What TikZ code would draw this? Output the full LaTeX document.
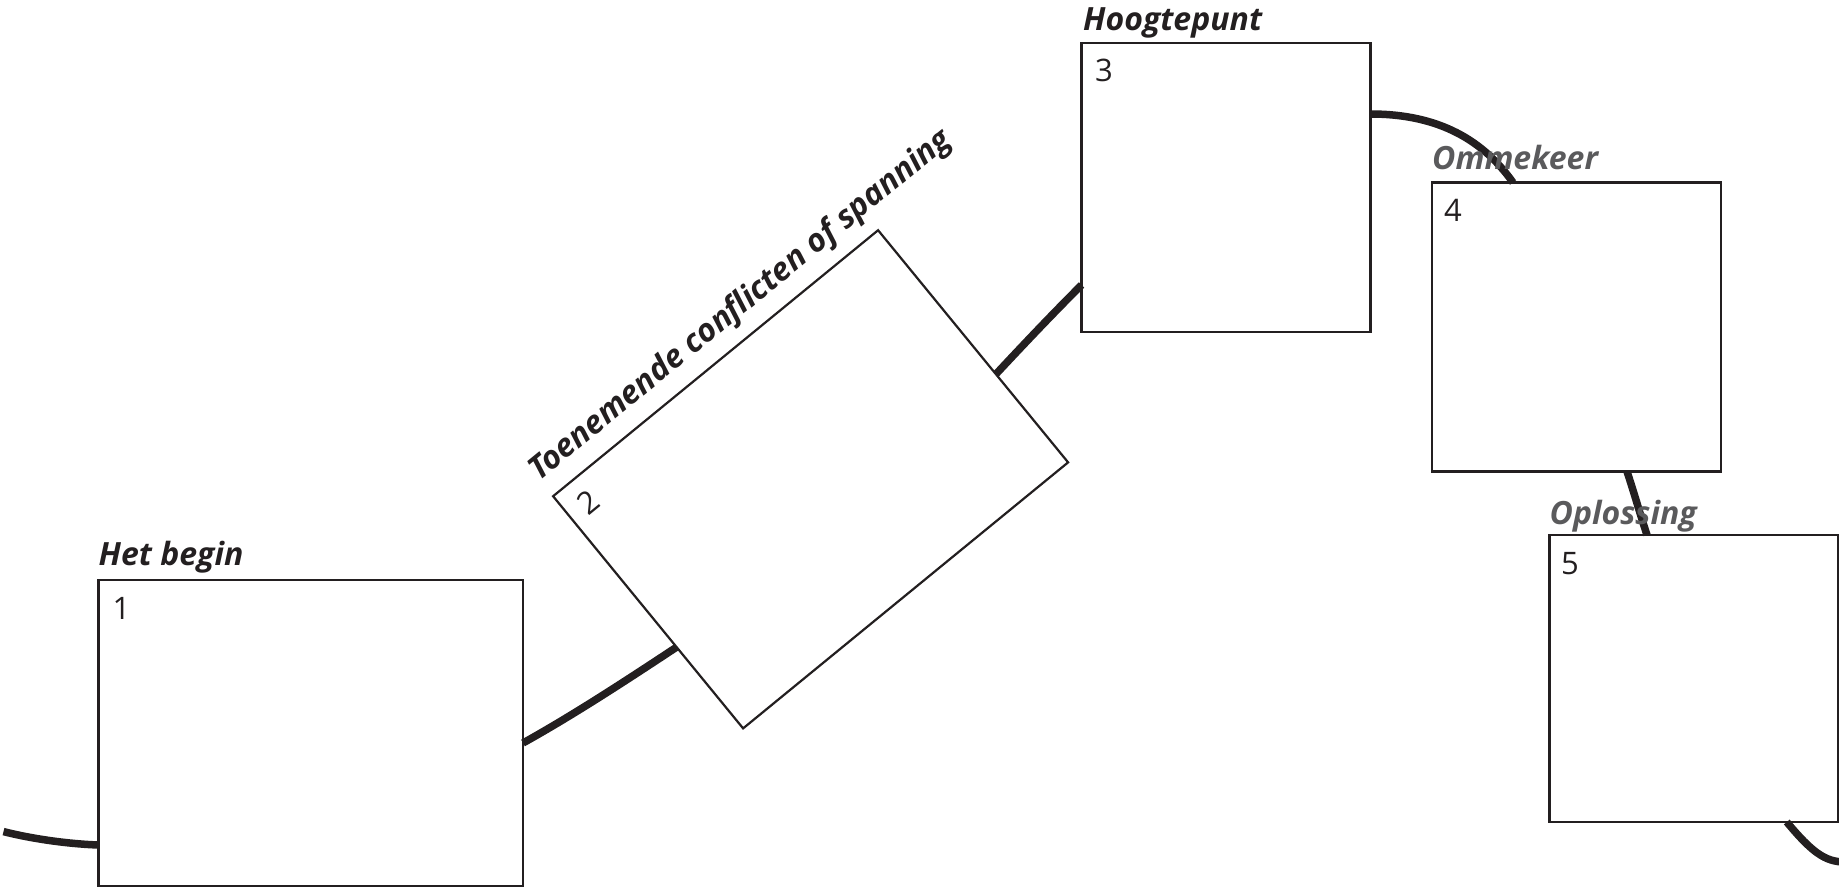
\documentclass[tikz,border=0pt]{standalone}
\usepackage{fontspec}
\setmainfont{Open Sans}
\usetikzlibrary{calc}
\definecolor{ink}{HTML}{231F20}
\definecolor{graytxt}{HTML}{5A5A5C}
\tikzset{
  panel/.style={draw=ink, line width=2.6pt, fill=white, rectangle, inner sep=0pt, outer sep=0pt},
  ttl/.style={anchor=base west, inner sep=0pt, font=\fontsize{32}{36}\selectfont\bfseries\itshape, text=ink},
  ttlgray/.style={ttl, text=graytxt},
  numlbl/.style={anchor=base west, inner sep=0pt, font=\fontsize{31}{36}\selectfont, text=ink},
  storyline/.style={draw=ink, line width=7.5pt}
}
\begin{document}
\begin{tikzpicture}[x=1pt, y=-1pt]
\useasboundingbox (0,0) rectangle (1839,887);
% boxes
\node[panel, minimum width=424.5pt, minimum height=306pt] (box1) at (310.75,733) {};
\begin{scope}[shift={(810.6,479.3)}, rotate=39.3, transform shape]
  \node[panel, line width=2.2pt, minimum width=420pt, minimum height=300pt] (box2) at (0,0) {};
  \node[numlbl] (n2) at (-196,-112) {2};
  \node[ttl] (t2) at (-212,-170) {Toenemende conflicten of spanning};
\end{scope}
\node[panel, minimum width=289pt, minimum height=289pt] (box3) at (1226,187.5) {};
\node[panel, minimum width=289pt, minimum height=289pt] (box4) at (1576.5,327) {};
\node[panel, minimum width=289pt, minimum height=287pt] (box5) at (1693.75,678.5) {};
% numbers
\node[numlbl] (n1) at (112.5,619) {1};
\node[numlbl] (n3) at (1095,81) {3};
\node[numlbl] (n4) at (1444,221) {4};
\node[numlbl] (n5) at (1561,574) {5};
% titles
\node[ttl] (t1) at (98.5,565) {Het begin};
\node[ttl] (t3) at (1083,30) {Hoogtepunt};
% connectors
\coordinate (lstart) at (3.5,831.6);
\coordinate (rend) at (1845,862);
\draw[storyline] (lstart) .. controls +(32,8) and +(-28,-1) .. ([yshift=-112pt]box1.west);
\draw[storyline] ([yshift=-10pt]box1.east) .. controls +(52,-29) and +(-50,33) .. ($(box2.north west)!0.65!(box2.south west)$);
\draw[storyline] ($(box2.north east)!0.62!(box2.south east)$) .. controls +(28,-30) and +(-30,30) .. ([yshift=-97.5pt]box3.west);
\draw[storyline] ([yshift=73.5pt]box3.east) .. controls +(70,0) and +(-29,-41) .. ([xshift=-63.5pt]box4.north);
\draw[storyline] ([xshift=50.5pt]box4.south) .. controls +(7,21) and +(-7,-21) .. ([xshift=-46.75pt]box5.north);
\draw[storyline] ([xshift=93pt]box5.south) .. controls +(25,30) and +(-20,0) .. (rend);
% gray titles on top
\node[ttlgray] (t4) at (1432,169) {Ommekeer};
\node[ttlgray] (t5) at (1549.5,524) {Oplossing};
\end{tikzpicture}
\end{document}
